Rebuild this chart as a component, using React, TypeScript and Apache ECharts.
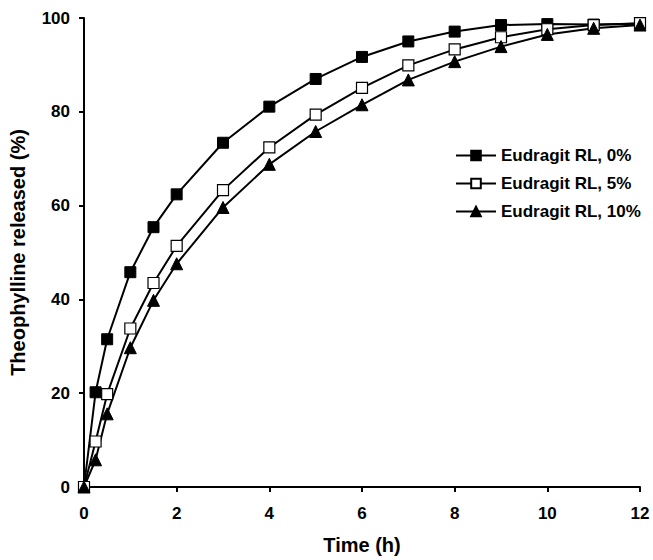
import React, { useEffect, useRef } from "react";
import * as echarts from "echarts";

const timeH = [0, 0.25, 0.5, 1, 1.5, 2, 3, 4, 5, 6, 7, 8, 9, 10, 11, 12];
const rl0 = [0, 20.2, 31.5, 45.8, 55.4, 62.4, 73.4, 81.1, 87, 91.7, 95, 97.1, 98.5, 98.7, 98.6, 98.8];
const rl5 = [0, 9.7, 19.8, 33.8, 43.5, 51.4, 63.3, 72.4, 79.4, 85.1, 89.9, 93.3, 95.9, 97.6, 98.5, 98.9];
const rl10 = [0, 5.8, 15.6, 29.7, 39.8, 47.6, 59.6, 68.8, 75.8, 81.5, 86.8, 90.7, 93.9, 96.5, 97.8, 98.5];
const seriesNames = ["Eudragit RL, 0%", "Eudragit RL, 5%", "Eudragit RL, 10%"];
const xTicks = [0, 2, 4, 6, 8, 10, 12];
const yTicks = [0, 20, 40, 60, 80, 100];

const FONT = "'Liberation Sans', Arial, sans-serif";

export default function App() {
  const ref = useRef<HTMLDivElement>(null);
  useEffect(() => {
    if (!ref.current) return;
    const chart = echarts.init(ref.current, undefined, { renderer: "svg" });
    const mk = (vals: number[]) => timeH.map((t, i) => [t, vals[i]]);
    const base = {
      type: "line",
      lineStyle: { color: "#000", width: 2 },
      symbolSize: 11,
      z: 3,
    };
    chart.setOption({
      animation: false,
      backgroundColor: "#fff",
      textStyle: { fontFamily: FONT },
      grid: { left: 84, right: 13, top: 18, bottom: 71, containLabel: false },
      legend: {
        orient: "vertical",
        left: 450,
        top: 142,
        itemWidth: 40,
        itemHeight: 12,
        itemGap: 11,
        textStyle: { fontFamily: FONT, fontWeight: "bold", fontSize: 17, color: "#000" },
        data: seriesNames,
      },
      xAxis: {
        type: "value",
        min: 0,
        max: 12,
        interval: 2,
        name: "Time (h)",
        nameLocation: "middle",
        nameGap: 48,
        nameTextStyle: { fontFamily: FONT, fontWeight: "bold", fontSize: 20, color: "#000" },
        axisLine: { lineStyle: { color: "#000", width: 2 } },
        axisTick: { show: true, length: 5, lineStyle: { color: "#000", width: 2 } },
        axisLabel: { fontFamily: FONT, fontWeight: "bold", fontSize: 17, color: "#000", margin: 18,
          formatter: (v: number) => (xTicks.includes(v) ? String(v) : "") },
        splitLine: { show: false },
      },
      yAxis: {
        type: "value",
        min: 0,
        max: 100,
        interval: 20,
        name: "Theophylline released (%)",
        nameLocation: "middle",
        nameGap: 56,
        nameRotate: 90,
        nameTextStyle: { fontFamily: FONT, fontWeight: "bold", fontSize: 20, color: "#000" },
        axisLine: { show: true, lineStyle: { color: "#000", width: 2 } },
        axisTick: { show: true, length: 5, lineStyle: { color: "#000", width: 2 } },
        axisLabel: { fontFamily: FONT, fontWeight: "bold", fontSize: 17, color: "#000", margin: 14,
          formatter: (v: number) => (yTicks.includes(v) ? String(v) : "") },
        splitLine: { show: false },
      },
      series: [
        {
          ...base,
          name: seriesNames[0],
          data: mk(rl0),
          symbol: "rect",
          itemStyle: { color: "#000", borderColor: "#000", borderWidth: 1 },
        },
        {
          ...base,
          name: seriesNames[1],
          data: mk(rl5),
          symbol: "rect",
          itemStyle: { color: "#fff", borderColor: "#000", borderWidth: 1.2 },
        },
        {
          ...base,
          name: seriesNames[2],
          data: mk(rl10),
          symbol: "triangle",
          symbolSize: 12,
          itemStyle: { color: "#000", borderColor: "#000", borderWidth: 1 },
        },
      ],
    });
    return () => chart.dispose();
  }, []);
  return (
    <div
      ref={ref}
      style={{ position: "fixed", left: 0, top: 0, width: 653, height: 560 }}
    />
  );
}
